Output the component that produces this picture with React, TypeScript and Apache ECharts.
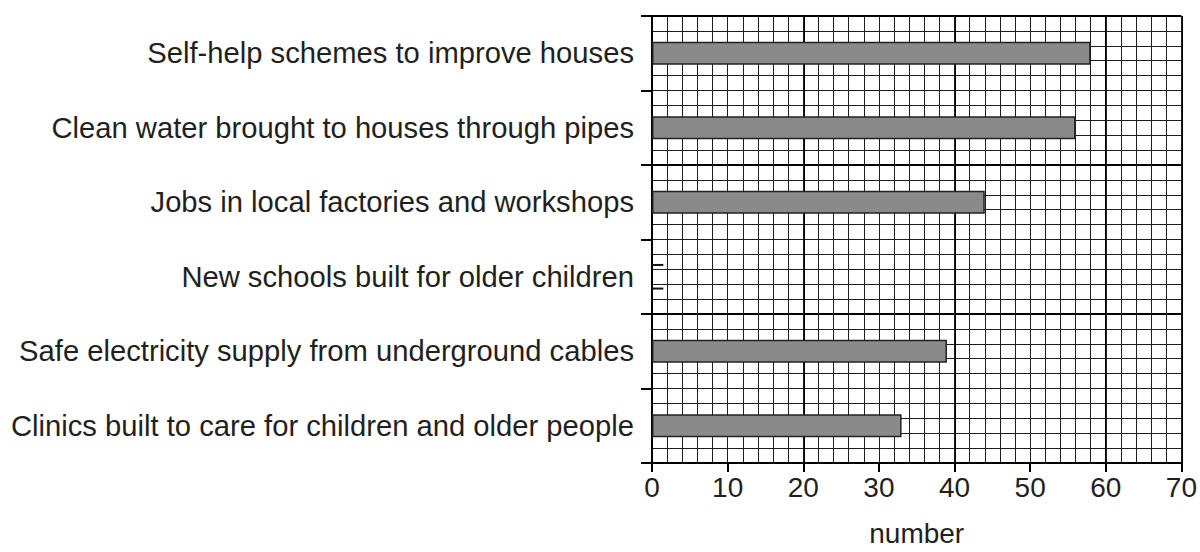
import React, { useEffect, useRef } from "react";
import * as echarts from "echarts";

const categories = [
  "Self-help schemes to improve houses",
  "Clean water brought to houses through pipes",
  "Jobs in local factories and workshops",
  "New schools built for older children",
  "Safe electricity supply from underground cables",
  "Clinics built to care for children and older people",
];
const values: (number | null)[] = [58, 56, 44, null, 39, 33];
// unfinished (blank) bar outline for the empty category: [length, category index]
const blankBar: [number, number][] = [[1.5, 3]];
const xMin = 0;
const xMax = 70;
const xStep = 10;
const xAxisName = "number";

const FONT = "'Liberation Sans', Arial, Helvetica, sans-serif";
const TEXT = "#231f20";
const GRID = "#1e1e1e";

export default function App() {
  const ref = useRef<HTMLDivElement>(null);
  useEffect(() => {
    if (!ref.current) return;
    const chart = echarts.init(ref.current, null, { renderer: "svg" });
    const barWidth = 23;
    chart.setOption({
      animation: false,
      backgroundColor: "#ffffff",
      grid: { left: 652, right: 18, top: 16, bottom: 82, containLabel: false },
      xAxis: [
        {
          type: "value",
          min: xMin,
          max: xMax,
          interval: xStep,
          position: "bottom",
          name: xAxisName,
          nameLocation: "middle",
          nameGap: 56,
          nameTextStyle: { fontFamily: FONT, fontSize: 28, color: TEXT },
          axisLine: { show: true, lineStyle: { color: "#000", width: 2 } },
          axisTick: { show: true, length: 9, lineStyle: { color: "#000", width: 2 } },
          axisLabel: { fontFamily: FONT, fontSize: 28, color: TEXT, margin: 10 },
          splitLine: { show: true, lineStyle: { color: GRID, width: 1 } },
          minorTick: { show: false, splitNumber: 5 },
          minorSplitLine: { show: true, lineStyle: { color: GRID, width: 1 } },
          z: 3,
        },
        {
          type: "value",
          min: xMin,
          max: xMax,
          interval: 20,
          position: "top",
          axisLine: { show: false },
          axisTick: { show: false },
          axisLabel: { show: false },
          splitLine: { show: true, lineStyle: { color: "#000", width: 2 } },
        },
      ],
      yAxis: [
        {
          type: "category",
          data: categories,
          inverse: true,
          position: "left",
          axisLine: { show: true, lineStyle: { color: "#000", width: 2 } },
          axisTick: { show: true, length: 11, alignWithLabel: false, lineStyle: { color: "#000", width: 2 } },
          axisLabel: { fontFamily: FONT, fontSize: 29.2, color: TEXT, margin: 18 },
          splitLine: { show: false },
          z: 3,
        },
        {
          type: "value",
          min: 0,
          max: 30,
          interval: 1,
          position: "right",
          axisLine: { show: false },
          axisTick: { show: false },
          axisLabel: { show: false },
          splitLine: { show: true, lineStyle: { color: GRID, width: 1 } },
        },
        {
          type: "value",
          min: 0,
          max: 30,
          interval: 10,
          position: "right",
          axisLine: { show: false },
          axisTick: { show: false },
          axisLabel: { show: false },
          splitLine: { show: true, lineStyle: { color: "#000", width: 2 } },
        },
      ],
      series: [
        {
          type: "bar",
          xAxisIndex: 0,
          yAxisIndex: 0,
          data: values,
          barWidth,
          itemStyle: { color: "#8a8a8a", borderColor: "#222", borderWidth: 1.5 },
          z: 5,
        },
        {
          type: "custom",
          xAxisIndex: 0,
          yAxisIndex: 0,
          data: blankBar,
          encode: { x: 0, y: 1 },
          z: 6,
          renderItem: (params: any, api: any) => {
            const len = api.value(0);
            const cat = api.value(1);
            const s = api.coord([0, cat]);
            const e = api.coord([len, cat]);
            const half = 11.8;
            const st = { stroke: "#111", lineWidth: 2 };
            return {
              type: "group",
              children: [
                { type: "line", shape: { x1: s[0], y1: s[1] - half, x2: e[0], y2: e[1] - half }, style: st },
                { type: "line", shape: { x1: s[0], y1: s[1] + half, x2: e[0], y2: e[1] + half }, style: st },
              ],
            };
          },
        },
      ],
    });
    return () => chart.dispose();
  }, []);
  return <div ref={ref} style={{ width: 1200, height: 552, position: "absolute", left: 0, top: 0 }} />;
}
